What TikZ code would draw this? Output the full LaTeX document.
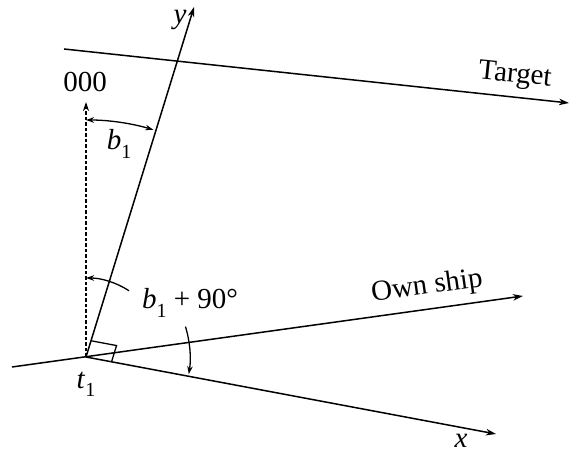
\documentclass[tikz,border=0pt]{standalone}
\usepackage{fontspec}
\setmainfont{Liberation Serif}
\usetikzlibrary{arrows.meta,calc}
\newcommand\lowidx[1]{\raisebox{-0.28em}{\fontsize{20}{20}\selectfont #1}}
\begin{document}
\begin{tikzpicture}[x=1pt,y=1pt,
  ax/.style={line width=1.5pt,-{Stealth[length=10pt,width=6.5pt,inset=3pt]}},
  dashline/.style={line width=1.3pt,dash pattern=on 3.5pt off 2pt},
  arcarrow/.style={line width=1.3pt},
  tipa/.style={-{Stealth[length=8pt,width=5.5pt,inset=2.5pt]}},
  tipb/.style={{Stealth[length=8pt,width=5.5pt,inset=2.5pt]}-},
  tipc/.style={{Stealth[length=8pt,width=5.5pt,inset=2.5pt]}-{Stealth[length=8pt,width=5.5pt,inset=2.5pt]}},
  lbl/.style={inner sep=0pt,font=\fontsize{29}{34}\selectfont}]
\path[use as bounding box] (0,0) rectangle (570,455);
\coordinate (O) at (86,98);
\coordinate (Y) at (194,448);
\coordinate (X) at (496,21);
\coordinate (T0) at (64,406);
\coordinate (T1) at (569,352);
\coordinate (S0) at (12,88);
\coordinate (S1) at (523,159);
\coordinate (N) at (86,353);
% axes and courses
\draw[ax] (O) -- (Y);
\draw[ax] (T0) -- (T1);
\draw[ax] (S0) -- (S1);
\draw[ax] (O) -- (X);
\draw[dashline,-{Stealth[length=9pt,width=6pt,inset=3pt]}] (O) -- (N);
% right angle marker
\draw[line width=1.3pt] ($(O)+(72.85:17)$) -- ++(-10.64:26) -- ($(O)+(-10.64:26)$);
% b1 arc
\draw[arcarrow,tipc] ($(O)+(90:237)$) arc[start angle=90,end angle=73.5,radius=237];
% b1+90 arcs
\draw[arcarrow,tipb] ($(O)+(90:79)$) arc[start angle=90,end angle=57,radius=79];
\draw[arcarrow,tipa] ($(O)+(17:104)$) arc[start angle=17,end angle=-9,radius=106];
% labels
\node[lbl] (ylab) at (180,435) {\textit{y}};
\node[lbl,rotate=-6] (tglab) at (515,379) {Target};
\node[lbl] (zlab) at (85,373) {000};
\node[lbl] (b1lab) at (119,311) {\textit{b}\lowidx{1}};
\node[lbl] (b90lab) at (190,152) {\textit{b}\lowidx{1} + 90°};
\node[lbl,rotate=8] (oslab) at (427,168) {Own ship};
\node[lbl] (xlab) at (461,14) {\textit{x}};
\node[lbl] (t1lab) at (86,71) {\textit{t}\lowidx{1}};
\end{tikzpicture}
\end{document}
